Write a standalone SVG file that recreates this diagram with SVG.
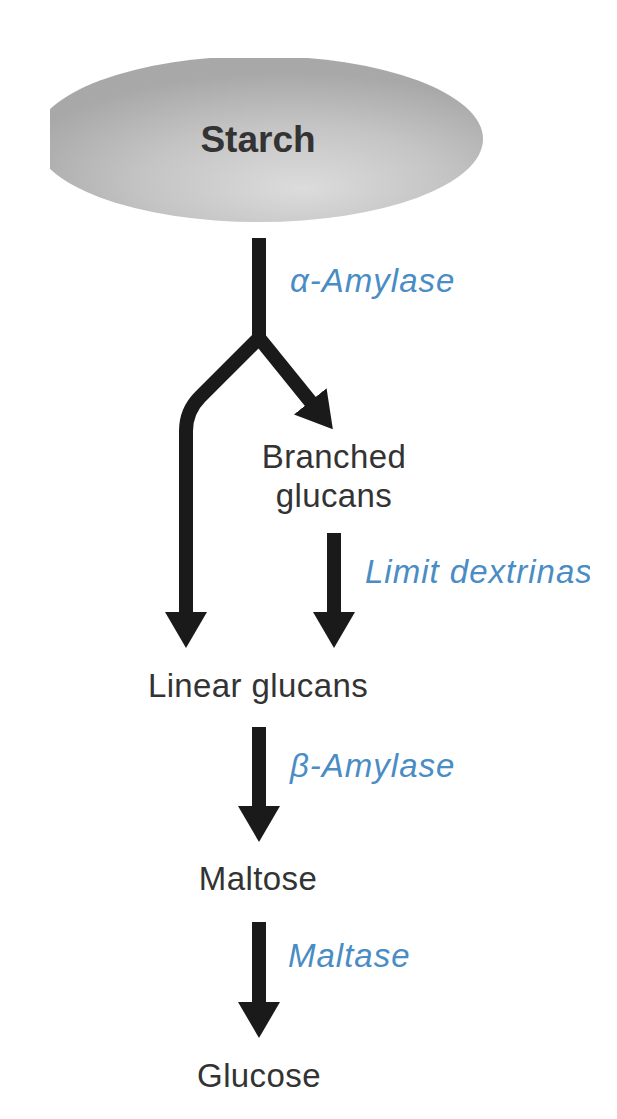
<svg xmlns="http://www.w3.org/2000/svg" width="617" height="1119" viewBox="0 0 617 1119">
  <defs>
    <style>
      .node { font-family: "Liberation Sans", Arial, sans-serif; font-size: 33px; fill: #333333; text-anchor: middle; letter-spacing: 0.4px; }
      .title { font-family: "Liberation Sans", Arial, sans-serif; font-size: 37px; font-weight: bold; fill: #333333; text-anchor: middle; }
      .enz { font-family: "Liberation Sans", Arial, sans-serif; font-size: 33px; font-style: italic; fill: #4a8cc4; letter-spacing: 1px; }
      .conn { fill: none; stroke: #1a1a1a; stroke-width: 14; stroke-linejoin: miter; marker-end: url(#head); }
    </style>
    <marker id="head" markerUnits="userSpaceOnUse" viewBox="0 0 36 42" markerWidth="36" markerHeight="42" refX="6" refY="21" orient="auto">
      <path d="M0,0 L36,21 L0,42 Z" fill="#1a1a1a"/>
    </marker>
    <radialGradient id="starchGrad" cx="0.56" cy="0.72" r="0.62" fx="0.6" fy="0.8">
      <stop offset="0" stop-color="#dcdcdc"/>
      <stop offset="0.55" stop-color="#c4c4c4"/>
      <stop offset="1" stop-color="#a8a8a8"/>
    </radialGradient>
    <clipPath id="frame">
      <rect x="50" y="58" width="540" height="1050"/>
    </clipPath>
  </defs>
  <rect x="0" y="0" width="617" height="1119" fill="#ffffff"/>
  <g clip-path="url(#frame)">
    <g id="starch">
      <ellipse cx="259" cy="139" rx="224" ry="83" fill="url(#starchGrad)"/>
      <text class="title" x="258" y="152">Starch</text>
    </g>
    <g id="connectors">
      <path class="conn" d="M259,238 V338 L200,397 Q186,411 186,431 V618"/>
      <path class="conn" d="M259,338 L314,406"/>
      <path class="conn" d="M334,533 V618"/>
      <path class="conn" d="M259,727 V812"/>
      <path class="conn" d="M259,922 V1008"/>
    </g>
    <g id="labels-enzymes">
      <text class="enz" x="290" y="292">α-Amylase</text>
      <text class="enz" x="365" y="583">Limit dextrinase</text>
      <text class="enz" x="290" y="777">β-Amylase</text>
      <text class="enz" x="288" y="967">Maltase</text>
    </g>
    <g id="branched">
      <text class="node" x="334" y="468">Branched</text>
      <text class="node" x="334" y="507">glucans</text>
    </g>
    <g id="linear">
      <text class="node" x="258" y="697">Linear glucans</text>
    </g>
    <g id="maltose">
      <text class="node" x="258" y="890">Maltose</text>
    </g>
    <g id="glucose">
      <text class="node" x="259" y="1087">Glucose</text>
    </g>
  </g>
</svg>
